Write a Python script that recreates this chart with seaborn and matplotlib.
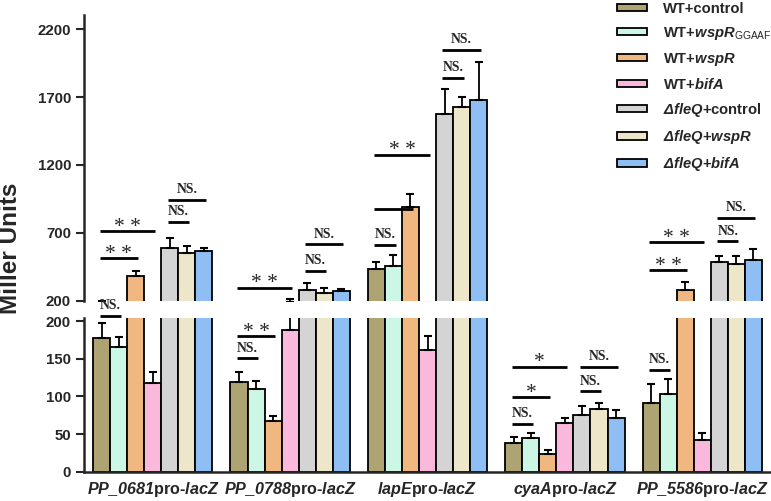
import numpy as np
import pandas as pd
import matplotlib
matplotlib.use("Agg")
import matplotlib.pyplot as plt
import seaborn as sns
from matplotlib.patches import Patch

# ---------------- data ----------------
genes = ["PP_0681", "PP_0788", "lapE", "cyaA", "PP_5586"]
gene_labels = [r"$PP\_0681$pro-$lacZ$", r"$PP\_0788$pro-$lacZ$", r"$lapE$pro-$lacZ$",
               r"$cyaA$pro-$lacZ$", r"$PP\_5586$pro-$lacZ$"]
strains = ["WT+control", "WT+wspR_GGAAF", "WT+wspR", "WT+bifA",
           "dfleQ+control", "dfleQ+wspR", "dfleQ+bifA"]
strain_labels = ["WT+control", r"WT+$wspR$$_{\mathsf{GGAAF}}$", r"WT+$wspR$", r"WT+$bifA$",
                 r"$\Delta fleQ$+control", r"$\Delta fleQ$+$wspR$", r"$\Delta fleQ$+$bifA$"]

wt_control        = [177, 119, 431, 39, 91]
wt_control_err    = [21, 13, 56, 8, 25]
wt_ggaaf          = [165, 110, 456, 45, 103]
wt_ggaaf_err      = [14, 10, 79, 7, 20]
wt_wspr           = [384, 67.5, 888, 24, 279]
wt_wspr_err       = [33, 7, 96, 5, 59]
wt_bifa           = [118, 188, 162, 64.5, 42]
wt_bifa_err       = [14, 22, 18, 7.5, 9.5]
fleq_control      = [586, 279, 1578, 76, 487]
fleq_control_err  = [74, 49, 180, 12, 42]
fleq_wspr         = [549, 259, 1625, 83, 473]
fleq_wspr_err     = [56, 35, 76, 8, 56]
fleq_bifa         = [566, 269, 1679, 71, 500]
fleq_bifa_err     = [25, 19, 278, 11, 81]

values = [wt_control, wt_ggaaf, wt_wspr, wt_bifa, fleq_control, fleq_wspr, fleq_bifa]
errors = [wt_control_err, wt_ggaaf_err, wt_wspr_err, wt_bifa_err,
          fleq_control_err, fleq_wspr_err, fleq_bifa_err]

colors = ["#ADA373", "#CCF7E4", "#F0B880", "#FAB8DC", "#D4D4D4", "#EDE6C8", "#8FBEF5"]

upper_ticks = [200, 700, 1200, 1700, 2200]
lower_ticks = [0, 50, 100, 150, 200]

# significance brackets: (group, from bar, to bar, panel, y value, label)
sig = [
    (0, 0, 1, "low", 207, "NS."), (0, 0, 2, "up", 512, "* *"), (0, 0, 3, "up", 714, "* *"),
    (0, 4, 5, "up", 782, "NS."), (0, 4, 6, "up", 942, "NS."),
    (1, 0, 1, "low", 150.6, "NS."), (1, 0, 2, "low", 180, "* *"), (1, 0, 3, "up", 296, "* *"),
    (1, 4, 5, "up", 421, "NS."), (1, 4, 6, "up", 615, "NS."),
    (2, 0, 1, "up", 610, "NS."), (2, 0, 2, "up", 875, ""), (2, 0, 3, "up", 1276, "* *"),
    (2, 4, 5, "up", 1843, "NS."), (2, 4, 6, "up", 2047, "NS."),
    (3, 0, 1, "low", 63.6, "NS."), (3, 0, 2, "low", 99, "*"), (3, 0, 3, "low", 139.5, "*"),
    (3, 4, 5, "low", 107, "NS."), (3, 4, 6, "low", 139.5, "NS."),
    (4, 0, 1, "low", 135, "NS."), (4, 0, 2, "up", 426, "* *"), (4, 0, 3, "up", 630, "* *"),
    (4, 4, 5, "up", 638, "NS."), (4, 4, 6, "up", 810, "NS."),
]

# ---------------- style ----------------
sns.set_style("ticks")
plt.rcParams["font.family"] = ["Liberation Sans", "DejaVu Sans"]
plt.rcParams["mathtext.fontset"] = "custom"
plt.rcParams["mathtext.rm"] = "Liberation Sans:bold:italic"
plt.rcParams["mathtext.it"] = "Liberation Sans:bold:italic"
plt.rcParams["mathtext.bf"] = "Liberation Sans:bold:italic"
plt.rcParams["mathtext.sf"] = "Liberation Sans"

rows = []
for s, vals in zip(strains, values):
    for g, v in zip(genes, vals):
        rows.append({"gene": g, "strain": s, "value": v})
df = pd.DataFrame(rows)

fig = plt.figure(figsize=(7.71, 5.01), dpi=100)
ax_top = fig.add_axes([0.109, 0.3998, 0.891, 0.5702])
ax_bot = fig.add_axes([0.109, 0.0579, 0.891, 0.3074])

bar_conts = {}
for ax in (ax_top, ax_bot):
    sns.barplot(data=df, x="gene", y="value", hue="strain", order=genes, hue_order=strains,
                palette=colors, width=0.868, gap=0, edgecolor="black", linewidth=1.3,
                errorbar=None, legend=False, saturation=1, ax=ax)
    conts = list(ax.containers)
    bar_conts[ax] = conts
    for i, cont in enumerate(conts):
        xs = [p.get_x() + p.get_width() / 2 for p in cont.patches]
        hs = [p.get_height() for p in cont.patches]
        ax.errorbar(xs, hs, yerr=[np.zeros(len(hs)), errors[i]], fmt="none",
                    ecolor="black", elinewidth=1.3, capsize=3, capthick=1.5, zorder=3)
    ax.set_xlim(-0.5, 4.5)
    ax.set_xlabel("")
    ax.set_ylabel("")
    for sp in ["top", "right"]:
        ax.spines[sp].set_visible(False)
    ax.spines["left"].set_linewidth(1.8)
    ax.spines["bottom"].set_linewidth(1.8)
    ax.tick_params(axis="y", length=5.8, width=1.5, labelsize=10.5, pad=3.5)

ax_top.set_ylim(200, 2305)
ax_bot.set_ylim(0, 204)
ax_top.set_yticks(upper_ticks)
ax_top.set_yticklabels([str(t) for t in upper_ticks], fontweight="bold", fontsize=10.8)
ax_bot.set_yticks(lower_ticks)
ax_bot.set_yticklabels([str(t) for t in lower_ticks], fontweight="bold", fontsize=10.8)
ax_top.spines["bottom"].set_visible(False)
ax_top.tick_params(axis="x", bottom=False, labelbottom=False)
ax_bot.set_xticks(range(len(genes)))
ax_bot.set_xticklabels(gene_labels, fontweight="bold", fontsize=11.6)
ax_bot.tick_params(axis="x", length=0, pad=6)

# significance brackets
for g, a, b, panel, y, label in sig:
    ax = ax_top if panel == "up" else ax_bot
    pa = bar_conts[ax][a].patches[g]
    pb = bar_conts[ax][b].patches[g]
    x0 = pa.get_x() + pa.get_width() / 2 - 0.015
    x1 = pb.get_x() + pb.get_width() / 2 + 0.015
    ax.plot([x0, x1], [y, y], color="black", lw=2.0, solid_capstyle="butt",
            clip_on=False, zorder=4)
    if label:
        if label.startswith("*"):
            ax.annotate(label, xy=((x0 + x1) / 2, y), xytext=(0, -0.5),
                        textcoords="offset points", ha="center", va="baseline",
                        fontfamily="Liberation Serif", fontsize=15.5,
                        annotation_clip=False, zorder=4)
        else:
            ax.annotate(label, xy=((x0 + x1) / 2, y), xytext=(0, 4.8),
                        textcoords="offset points", ha="center", va="baseline",
                        fontfamily="Liberation Serif", fontweight="bold", fontsize=9.8,
                        annotation_clip=False, zorder=4)

# legend
handles = [Patch(facecolor=c, edgecolor="black", linewidth=1.3) for c in colors]
fig.legend(handles, strain_labels, loc="upper left", bbox_to_anchor=(0.7998, 0.997),
           frameon=False, prop={"weight": "bold", "size": 10.6},
           handlelength=2.05, handleheight=0.4, handletextpad=1.1,
           labelspacing=0.62, borderpad=0, borderaxespad=0)

fig.text(0.0135, 0.505, "Miller Units", rotation=90, ha="center", va="center",
         fontsize=17.5, fontweight="bold")

fig.savefig("out.png", dpi=100)
